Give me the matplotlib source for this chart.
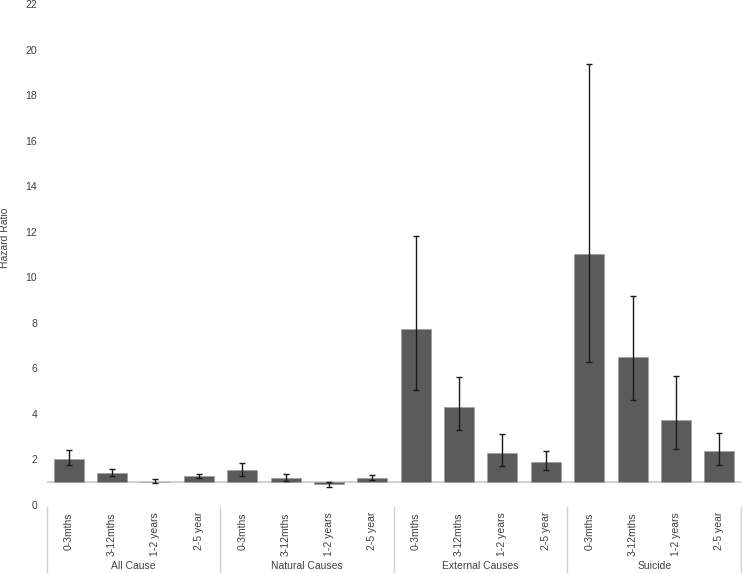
import numpy as np
import matplotlib
matplotlib.use("Agg")
import matplotlib.pyplot as plt
from matplotlib import transforms

plt.rcParams['font.family'] = ['Liberation Sans', 'DejaVu Sans']

groups = ["All Cause", "Natural Causes", "External Causes", "Suicide"]
periods = ["0-3mths", "3-12mths", "1-2 years", "2-5 year"]

# hazard ratios and 95% CI, in order of groups x periods
hr = [2.02, 1.42, 1.02, 1.26,
      1.54, 1.17, 0.92, 1.20,
      7.72, 4.29, 2.30, 1.89,
      11.02, 6.52, 3.74, 2.36]
ci_low = [1.76, 1.29, 0.95, 1.19,
          1.27, 1.07, 0.80, 1.11,
          5.05, 3.31, 1.70, 1.52,
          6.27, 4.63, 2.48, 1.74]
ci_high = [2.43, 1.60, 1.16, 1.38,
           1.86, 1.35, 1.02, 1.30,
           11.80, 5.60, 3.11, 2.39,
           19.38, 9.16, 5.67, 3.18]

hr = np.array(hr)
lo = hr - np.array(ci_low)
hi = np.array(ci_high) - hr
x = np.arange(len(hr))

fig = plt.figure(figsize=(7.42, 5.73), dpi=100)
ax = fig.add_axes([47 / 742, 1 - 505 / 573, 694 / 742, 501 / 573])

txt = '#404040'
# bars start from the reference line at HR = 1
ax.bar(x, hr - 1, bottom=1, width=0.69, color='#5b5b5b',
       edgecolor='#a0a0a0', linewidth=0.6, zorder=2)
ax.errorbar(x, hr, yerr=[lo, hi], fmt='none', ecolor='#1a1a1a',
            elinewidth=1, capsize=2.5, capthick=1, zorder=3)
ax.axhline(1, color='#c8c8c8', lw=1.2, zorder=1)

ax.set_xlim(-0.5, len(hr) - 0.5)
ax.set_ylim(0, 22)
ax.set_yticks(np.arange(0, 23, 2))
ax.set_xticks([])
ax.tick_params(axis='y', length=0, pad=7, labelsize=7.5, labelcolor=txt)
for s in ax.spines.values():
    s.set_visible(False)

trans = transforms.blended_transform_factory(ax.transData, ax.transAxes)
# period labels
for i in x:
    ax.text(i, -0.014, periods[i % 4], rotation=90, ha='center', va='top',
            fontsize=7.5, color=txt, transform=trans)
# group labels and separators
for g, name in enumerate(groups):
    ax.text(g * 4 + 1.5, -0.122, name, ha='center', va='center',
            fontsize=7.5, color=txt, transform=trans)
for b in np.arange(-0.5, len(hr), 4):
    ax.plot([b, b], [-0.003, -0.14], color='#d0d0d0', lw=1,
            transform=trans, clip_on=False)

fig.text(5 / 742, 1 - 238 / 573, "Hazard Ratio", rotation=90, ha='center',
         va='center', fontsize=7.5, color=txt)

fig.savefig("out.png", dpi=100)
